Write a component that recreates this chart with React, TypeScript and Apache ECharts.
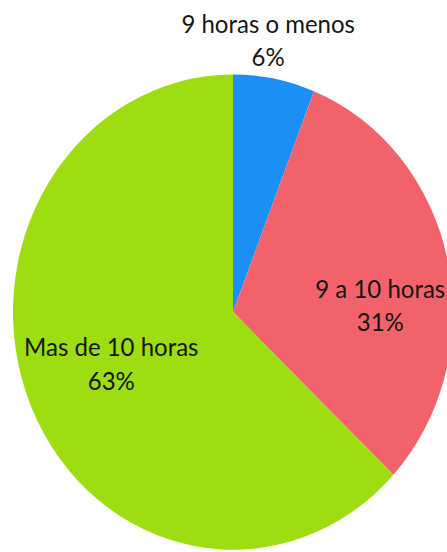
import React, { useEffect, useRef } from "react";
import * as echarts from "echarts";

const categories = ["9 horas o menos", "9 a 10 horas", "Mas de 10 horas"];
const values = [6, 31, 63];
const colors = ["#1c8ff5", "#f2626b", "#9ddd12"];
const labelOffsets: [number, number][] = [
  [14, -142],
  [37, 17],
  [-18, 2],
];

export default function App() {
  const ref = useRef<HTMLDivElement>(null);
  useEffect(() => {
    if (!ref.current) return;
    const chart = echarts.init(ref.current, undefined, { renderer: "svg" });
    chart.setOption({
      animation: false,
      backgroundColor: "#ffffff",
      series: [
        {
          type: "pie",
          center: [233, 289],
          radius: 220,
          startAngle: 90,
          clockwise: true,
          avoidLabelOverlap: false,
          labelLine: { show: false },
          label: {
            show: true,
            position: "inside",
            formatter: "{b}\n{d}%",
            fontFamily: "Lato",
            fontSize: 24,
            lineHeight: 31,
            color: "#151515",
          },
          itemStyle: { borderWidth: 0 },
          data: categories.map((name, i) => ({
            name,
            value: values[i],
            itemStyle: { color: colors[i] },
            label: { offset: labelOffsets[i] },
          })),
        },
      ],
    });
    return () => chart.dispose();
  }, []);
  return (
    <div
      style={{
        position: "absolute",
        left: 0,
        top: 0,
        width: 447,
        height: 552,
        overflow: "hidden",
        background: "#fff",
      }}
    >
      <div
        ref={ref}
        style={{
          width: 447,
          height: 512,
          transform: "scaleY(1.08)",
          transformOrigin: "0 0",
        }}
      />
    </div>
  );
}
